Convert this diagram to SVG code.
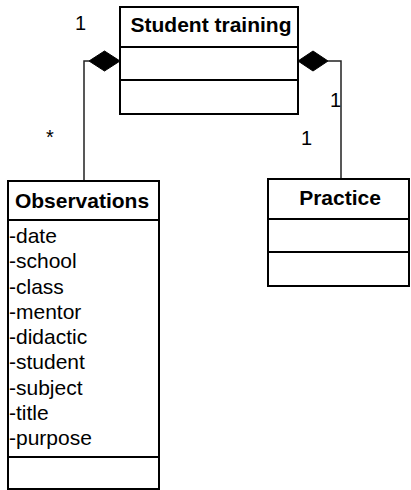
<svg xmlns="http://www.w3.org/2000/svg" width="411" height="490" viewBox="0 0 411 490">
<style>
.box{fill:#fff;stroke:#000;stroke-width:2}
.div{stroke:#000;stroke-width:2}
.title{font-family:"Liberation Sans",Arial,sans-serif;font-weight:bold;font-size:21px;text-anchor:middle;fill:#000}
.attr{font-family:"Liberation Sans",Arial,sans-serif;font-size:21px;fill:#000}
.lbl{font-family:"Liberation Sans",Arial,sans-serif;font-size:20px;fill:#000}
.conn{fill:none;stroke:#222;stroke-width:1.5}
.dia{fill:#000;stroke:#000;stroke-width:1}
</style>
<rect width="411" height="490" fill="#fff"/>
<g id="connectors">
<polyline class="conn" points="89,61 84,61 84,181"/>
<polygon class="dia" points="89,61 104.5,51 120,61 104.5,71"/>
<polyline class="conn" points="328,61 341,61 341,179"/>
<polygon class="dia" points="298,61 313,51 328,61 313,71"/>
<text class="lbl" x="75" y="30">1</text>
<text class="lbl" x="46" y="144">*</text>
<text class="lbl" x="330" y="107">1</text>
<text class="lbl" x="301" y="145">1</text>
</g>
<g id="student-training">
<rect class="box" x="120" y="7" width="178" height="107"/>
<line class="div" x1="120" y1="47" x2="298" y2="47"/>
<line class="div" x1="120" y1="80" x2="298" y2="80"/>
<text class="title" x="211" y="32">Student training</text>
</g>
<g id="observations">
<rect class="box" x="8" y="181" width="151" height="308"/>
<line class="div" x1="8" y1="220" x2="159" y2="220"/>
<line class="div" x1="8" y1="457" x2="159" y2="457"/>
<text class="title" x="82" y="208">Observations</text>
<text class="attr" x="9" y="243">-date</text>
<text class="attr" x="9" y="268">-school</text>
<text class="attr" x="9" y="293.5">-class</text>
<text class="attr" x="9" y="318.5">-mentor</text>
<text class="attr" x="9" y="344">-didactic</text>
<text class="attr" x="9" y="369">-student</text>
<text class="attr" x="9" y="394.5">-subject</text>
<text class="attr" x="9" y="420">-title</text>
<text class="attr" x="9" y="445">-purpose</text>
</g>
<g id="practice">
<rect class="box" x="268" y="179" width="141" height="107"/>
<line class="div" x1="268" y1="219" x2="409" y2="219"/>
<line class="div" x1="268" y1="252" x2="409" y2="252"/>
<text class="title" x="340" y="205">Practice</text>
</g>
</svg>
